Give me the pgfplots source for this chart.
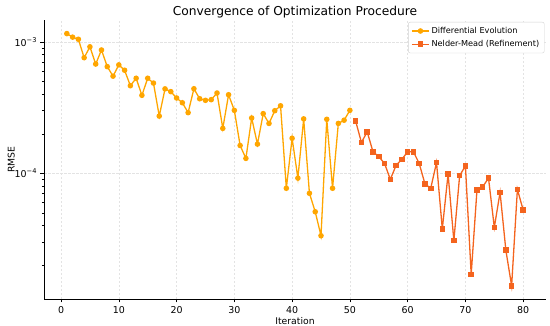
\documentclass[border=0pt]{standalone}
\usepackage{fontspec}
\setmainfont{DejaVu Sans}
\usepackage{pgfplots}
\pgfplotsset{compat=1.18}
\definecolor{deor}{RGB}{255,166,0}
\definecolor{nmor}{RGB}{244,100,30}
\begin{document}
\begin{tikzpicture}
\begin{axis}[
  name=ax,
  scale only axis, width=502bp, height=279bp,
  ymode=log,
  xmin=-2.95, xmax=83.95, ymin=1.104e-5, ymax=1.472e-3,
  axis lines*=left,
  axis line style={black, line width=0.8bp},
  tick align=outside,
  major tick length=3.5bp, minor tick length=2bp,
  tick style={black, line width=0.6bp},
  xtick={0,10,...,80},
  ytick={1e-4,1e-3},
  yticklabels={10\textsuperscript{−4},10\textsuperscript{−3}},
  minor ytick={2e-5,3e-5,4e-5,5e-5,6e-5,7e-5,8e-5,9e-5,2e-4,3e-4,4e-4,5e-4,6e-4,7e-4,8e-4,9e-4},
  /pgf/number format/assume math mode=true,
  ticklabel style={font=\fontsize{9.5}{11}\selectfont},
  grid=major,
  major grid style={gray!22, line width=0.5bp, dash pattern=on 2.5bp off 1.5bp},
  title={Convergence of Optimization Procedure},
  title style={font=\fontsize{12.3}{14}\selectfont, yshift=-8bp},
  xlabel={Iteration}, ylabel={RMSE},
  label style={font=\fontsize{9.3}{11}\selectfont},
  xlabel style={yshift=3bp},
  ylabel style={yshift=-7bp},
  legend style={at={(rel axis cs:0.997,0.993)}, anchor=north east,
    draw=gray!35, rounded corners=2bp, fill=white,
    font=\fontsize{8.2}{10}\selectfont, row sep=1.5bp, inner sep=3bp},
  legend cell align=left,
]
\addplot[deor, line width=1.3bp, mark=*, mark size=2.1bp] table {
x y
1 1.16e-3
2 1.09e-3
3 1.05e-3
4 7.6e-4
5 9.2e-4
6 6.8e-4
7 8.7e-4
8 6.5e-4
9 5.5e-4
10 6.7e-4
11 6.1e-4
12 4.65e-4
13 5.3e-4
14 3.93e-4
15 5.3e-4
16 4.87e-4
17 2.73e-4
18 4.4e-4
19 4.19e-4
20 3.75e-4
21 3.45e-4
22 2.9e-4
23 4.41e-4
24 3.7e-4
25 3.6e-4
26 3.64e-4
27 4.09e-4
28 2.2e-4
29 3.97e-4
30 3.02e-4
31 1.63e-4
32 1.30e-4
33 2.64e-4
34 1.67e-4
35 2.85e-4
36 2.4e-4
37 3.0e-4
38 3.27e-4
39 7.7e-5
40 1.85e-4
41 9.2e-5
42 2.6e-4
43 7.05e-5
44 5.1e-5
45 3.35e-5
46 2.58e-4
47 7.7e-5
48 2.4e-4
49 2.54e-4
50 3.02e-4
};
\addlegendentry{Differential Evolution}
\addplot[nmor, line width=1.3bp, mark=square*, mark size=2.1bp] table {
x y
51 2.5e-4
52 1.72e-4
53 2.07e-4
54 1.46e-4
55 1.34e-4
56 1.19e-4
57 9.0e-5
58 1.15e-4
59 1.28e-4
60 1.46e-4
61 1.46e-4
62 1.19e-4
63 8.3e-5
64 7.7e-5
65 1.21e-4
66 3.77e-5
67 9.9e-5
68 3.07e-5
69 9.6e-5
70 1.14e-4
71 1.70e-5
72 7.46e-5
73 7.9e-5
74 9.2e-5
75 3.88e-5
76 7.16e-5
77 2.6e-5
78 1.39e-5
79 7.55e-5
80 5.25e-5
};
\addlegendentry{Nelder-Mead (Refinement)}
\end{axis}
\pgfresetboundingbox
\path[use as bounding box] (ax.south west) ++(-44bp,-27bp) rectangle ++(550bp,326bp);
\end{tikzpicture}
\end{document}
